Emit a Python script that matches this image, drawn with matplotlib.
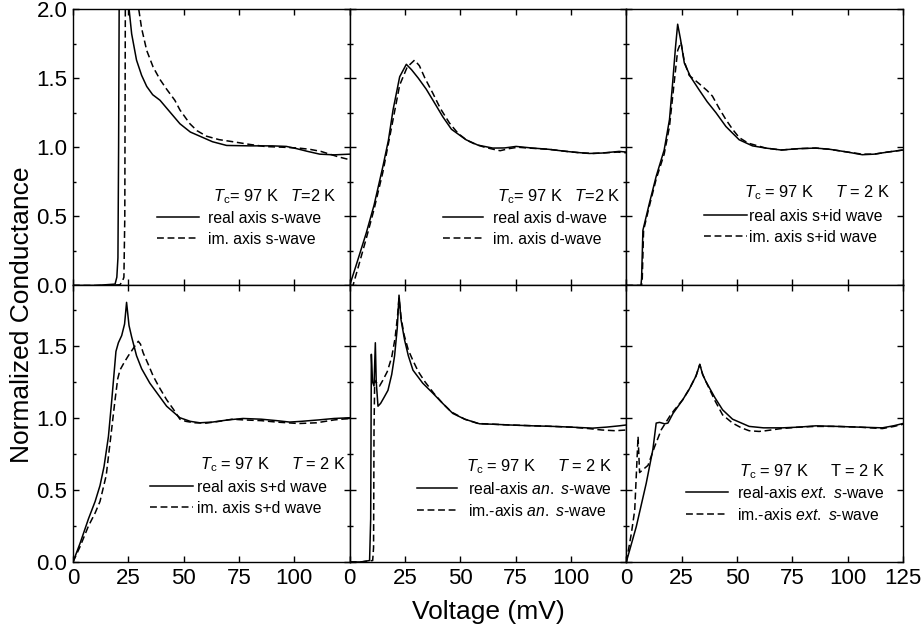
import matplotlib
matplotlib.use("Agg")
import matplotlib.pyplot as plt
from matplotlib.lines import Line2D
from matplotlib.ticker import MultipleLocator, FuncFormatter

plt.rcParams["font.family"] = ["Liberation Sans", "DejaVu Sans"]
plt.rcParams["mathtext.fontset"] = "custom"
plt.rcParams["mathtext.rm"] = "Liberation Sans"
plt.rcParams["mathtext.it"] = "Liberation Sans:italic"

# --- data (voltage in mV, normalized conductance) ---
# s-wave
v_s_re = [0, 10, 19.0, 19.8, 20.3, 20.6, 21.0, 22.5, 25.0, 26.5, 28.7, 31.0, 33.3, 36.0, 39.3,
          43.0, 48.3, 53, 57.3, 63, 69.4, 80, 90, 96.4, 101, 106, 111.5, 118, 125]
g_s_re = [0, 0, 0.01, 0.06, 0.2, 1.0, 2.6, 3.2, 2.05, 1.82, 1.63, 1.52, 1.44, 1.38, 1.34,
          1.27, 1.17, 1.11, 1.08, 1.04, 1.013, 1.01, 1.01, 1.006, 0.99, 0.97, 0.95, 0.945, 0.95]
v_s_im = [0, 15, 21.2, 22.3, 23.0, 23.4, 23.8, 26.5, 29.5, 31.0, 33.3, 36.2, 39.3, 42.3, 46.0,
          48.3, 52.8, 56, 60.3, 66, 72.2, 80, 87, 95, 102, 107, 112, 116, 120, 125]
g_s_im = [0, 0, 0.005, 0.03, 0.06, 0.5, 3.0, 3.0, 2.02, 1.86, 1.70, 1.58, 1.49, 1.42, 1.34,
          1.27, 1.17, 1.12, 1.08, 1.055, 1.04, 1.02, 1.005, 1.0, 0.994, 0.985, 0.97, 0.95, 0.93, 0.91]

# d-wave
v_d_re = [0, 3, 7.5, 11, 15, 17.5, 19.6, 22.6, 25.6, 28, 31, 34.6, 38, 42.1, 46, 52.6, 58,
          64.7, 70, 75.2, 82, 90, 97.8, 103, 108.3, 114, 121.8, 125]
g_d_re = [0, 0.15, 0.38, 0.58, 0.86, 1.05, 1.27, 1.51, 1.60, 1.56, 1.50, 1.42, 1.33, 1.22,
          1.13, 1.054, 1.015, 0.994, 0.995, 1.006, 0.995, 0.985, 0.97, 0.962, 0.955, 0.958, 0.97, 0.965]
v_d_im = [0, 1.5, 4, 7.5, 11, 15, 19, 22.6, 26, 29.3, 31.5, 34, 37.6, 41, 45.1, 49, 53, 57,
          61, 65, 68, 72, 76, 80, 90, 98, 104, 110, 116, 121, 125]
g_d_im = [0, 0.0, 0.14, 0.34, 0.55, 0.82, 1.15, 1.45, 1.58, 1.63, 1.59, 1.50, 1.39, 1.28,
          1.175, 1.10, 1.05, 1.02, 1.0, 0.985, 0.975, 0.99, 1.0, 0.995, 0.985, 0.97, 0.96,
          0.955, 0.96, 0.965, 0.96]

# s+id wave
v_sid_re = [0, 6.6, 6.9, 7.5, 10.5, 13.5, 17.1, 19.5, 20.9, 22.2, 23.2, 24.5, 26.2, 29, 32.9,
            36.5, 40.5, 45, 51, 57, 63, 70, 78, 85.6, 92, 100, 106.6, 112, 118, 125]
g_sid_re = [0, 0, 0.05, 0.40, 0.60, 0.79, 0.98, 1.2, 1.46, 1.72, 1.89, 1.78, 1.61, 1.51, 1.415,
            1.33, 1.25, 1.15, 1.054, 1.01, 0.994, 0.98, 0.99, 0.994, 0.985, 0.965, 0.946, 0.95, 0.965, 0.98]
v_sid_im = [0, 6.9, 7.2, 7.8, 10.5, 13.5, 17.1, 19.5, 21.5, 23.2, 24.7, 26.2, 28.4, 32.9, 36.5,
            38.9, 42, 45, 48, 51, 55, 63, 70, 78, 85.6, 92, 100, 106.6, 112, 118, 125]
g_sid_im = [0, 0, 0.05, 0.40, 0.58, 0.77, 0.95, 1.15, 1.45, 1.70, 1.76, 1.62, 1.52, 1.46, 1.41,
            1.37, 1.28, 1.20, 1.13, 1.07, 1.03, 0.994, 0.98, 0.99, 0.994, 0.985, 0.965, 0.95,
            0.95, 0.965, 0.98]

# s+d wave
v_sd_re = [0, 3.2, 7, 10, 12.2, 14, 16, 17.5, 19.4, 20.5, 22, 23.3, 24.2, 25.3, 26.5, 28.7, 31,
           34.7, 38.5, 42.3, 48.3, 53, 57.3, 63, 70, 76.8, 85, 92, 97.9, 103, 111, 118, 125]
g_sd_re = [0, 0.13, 0.30, 0.42, 0.53, 0.66, 0.87, 1.12, 1.46, 1.52, 1.57, 1.65, 1.80, 1.64, 1.56,
           1.43, 1.34, 1.24, 1.16, 1.08, 1.0, 0.975, 0.965, 0.97, 0.985, 0.995, 0.99, 0.98,
           0.97, 0.975, 0.985, 0.995, 1.0]
v_sd_im = [0, 3, 7, 10, 12.2, 15, 17, 19, 20.2, 21.2, 23, 25, 27.2, 28.5, 29.5, 30.5, 31.7, 34,
           36.2, 39, 42.3, 45.3, 48.3, 51, 55, 60.3, 66, 72, 77, 85, 92, 102, 110, 118, 125]
g_sd_im = [0, 0.10, 0.25, 0.34, 0.42, 0.60, 0.86, 1.125, 1.27, 1.33, 1.38, 1.43, 1.48, 1.51, 1.53,
           1.51, 1.45, 1.37, 1.29, 1.21, 1.125, 1.06, 0.99, 0.975, 0.965, 0.963, 0.975, 0.99,
           0.985, 0.98, 0.97, 0.96, 0.965, 0.985, 0.995]

# anisotropic s-wave
v_an_re = [0, 5, 9.0, 9.5, 9.8, 10.3, 11.0, 11.6, 12.0, 12.8, 14, 15.5, 17.3, 19, 20.3, 21.5,
           22.3, 23.2, 24.8, 26.5, 28.6, 33, 37.6, 42, 46.6, 52, 58.7, 65, 72, 82.7, 92, 100,
           109.8, 116, 121.8, 125]
g_an_re = [0, 0, 0.01, 0.3, 1.44, 1.25, 1.22, 1.52, 1.25, 1.08, 1.10, 1.14, 1.19, 1.30, 1.43,
           1.62, 1.85, 1.68, 1.54, 1.43, 1.33, 1.24, 1.17, 1.10, 1.03, 0.99, 0.958, 0.955, 0.95,
           0.944, 0.94, 0.935, 0.928, 0.935, 0.944, 0.95]
v_an_im = [0, 5, 10.4, 10.8, 11.0, 11.3, 12.3, 13.5, 15, 17, 19, 20.5, 21.6, 22.3, 23.2, 24.5,
           26.5, 28.5, 31, 34, 38, 42, 46, 52, 58, 65, 72, 82, 92, 100, 108, 114, 120, 125]
g_an_im = [0, 0, 0.01, 0.1, 0.9, 1.26, 1.24, 1.22, 1.26, 1.32, 1.42, 1.55, 1.70, 1.83, 1.70,
           1.58, 1.47, 1.40, 1.32, 1.25, 1.17, 1.10, 1.04, 0.99, 0.96, 0.955, 0.95, 0.945, 0.94,
           0.935, 0.925, 0.915, 0.91, 0.915]

# extended s-wave
v_ext_re = [0, 4.5, 9.0, 12.0, 13.5, 15.0, 17.3, 18.8, 21.1, 25.5, 28.5, 31.5, 33.2, 34.5, 36,
            40, 43.5, 48, 55.5, 62, 70.5, 78, 85.6, 95, 105, 115.7, 121, 125]
g_ext_re = [0, 0.245, 0.546, 0.78, 0.963, 0.968, 0.958, 0.963, 1.03, 1.125, 1.20, 1.29, 1.37,
            1.30, 1.25, 1.14, 1.055, 0.99, 0.94, 0.93, 0.93, 0.935, 0.944, 0.94, 0.935, 0.93, 0.945, 0.96]
v_ext_im = [0, 2.3, 3.8, 5.3, 6.0, 7.5, 9.8, 12.8, 15.8, 19.6, 21.5, 25.5, 28.5, 31.5, 33.2,
            34.5, 36, 40, 43.5, 48, 52, 55.5, 60, 63, 70, 78, 85.6, 95, 105, 115.7, 121, 125]
g_ext_im = [0, 0.20, 0.36, 0.87, 0.62, 0.64, 0.67, 0.80, 0.917, 1.01, 1.05, 1.125, 1.20, 1.29,
            1.37, 1.30, 1.25, 1.12, 1.02, 0.963, 0.93, 0.91, 0.905, 0.91, 0.925, 0.935, 0.94,
            0.94, 0.935, 0.925, 0.94, 0.955]

headers = [
    "$T_\\mathrm{c}$= 97 K   $T$=2 K",
    "$T_\\mathrm{c}$= 97 K   $T$=2 K",
    "$T_\\mathrm{c}$ = 97 K     $T$ = 2 K",
    "$T_\\mathrm{c}$ = 97 K     $T$ = 2 K",
    "$T_\\mathrm{c}$ = 97 K     $T$ = 2 K",
    "$T_\\mathrm{c}$ = 97 K     T = 2 K",
]
labels = [
    ("real axis s-wave", "im. axis s-wave"),
    ("real axis d-wave", "im. axis d-wave"),
    ("real axis s+id wave", "im. axis s+id wave"),
    ("real axis s+d wave", "im. axis s+d wave"),
    ("real-axis $\\it{an.}$ $\\it{s}$-wave", "im.-axis $\\it{an.}$ $\\it{s}$-wave"),
    ("real-axis $\\it{ext.}$ $\\it{s}$-wave", "im.-axis $\\it{ext.}$ $\\it{s}$-wave"),
]
curves = [
    (v_s_re, g_s_re, v_s_im, g_s_im),
    (v_d_re, g_d_re, v_d_im, g_d_im),
    (v_sid_re, g_sid_re, v_sid_im, g_sid_im),
    (v_sd_re, g_sd_re, v_sd_im, g_sd_im),
    (v_an_re, g_an_re, v_an_im, g_an_im),
    (v_ext_re, g_ext_re, v_ext_im, g_ext_im),
]

# legend placement per panel: header (x, y), legend (x0, yc, handlelength, textpad)
header_pos = [(0.505, 0.321), (0.531, 0.321), (0.427, 0.336),
              (0.458, 0.351), (0.422, 0.344), (0.409, 0.326)]
legend_pos = [(0.303, 0.206, 2.68, 0.57), (0.336, 0.206, 2.55, 0.64), (0.279, 0.213, 2.74, 0.19),
              (0.278, 0.232, 2.74, 0.25), (0.242, 0.225, 2.55, 0.70), (0.214, 0.210, 2.68, 0.57)]

LW = 1.1
DASH = (4.5, 2.4)
FS_LEG = 11.3
FS_HEAD = 11.8

fig, axes = plt.subplots(2, 3, figsize=(9.23, 6.34), dpi=100)
fig.subplots_adjust(left=0.0791, right=0.9783, bottom=0.1136, top=0.9858, wspace=0, hspace=0)

for i, ax in enumerate(axes.flat):
    row, col = divmod(i, 3)
    vr, gr, vi, gi = curves[i]
    ax.plot(vr, gr, color="black", lw=LW)
    ax.plot(vi, gi, color="black", lw=LW, dashes=DASH)

    ax.set_xlim(0, 125)
    ax.set_ylim(0, 2.0 if row == 0 else 1.917)
    ax.xaxis.set_major_locator(MultipleLocator(25))
    ax.yaxis.set_major_locator(MultipleLocator(0.5))
    ax.yaxis.set_minor_locator(MultipleLocator(0.25))
    ax.tick_params(which="both", direction="in", top=True, right=True,
                   labelsize=16, width=1.0, pad=4)
    ax.tick_params(which="major", length=4)
    ax.tick_params(which="minor", length=2.5)
    for sp in ax.spines.values():
        sp.set_linewidth(1.0)

    ax.yaxis.set_major_formatter(FuncFormatter(lambda v, p: "%.1f" % v))
    if col != 0:
        ax.tick_params(labelleft=False)
    if row == 0:
        ax.tick_params(labelbottom=False)
    else:
        last = col == 2
        ax.xaxis.set_major_formatter(
            FuncFormatter(lambda v, p, last=last: "" if (v > 120 and not last) else "%d" % v))

    hx, hy = header_pos[i]
    ax.text(hx, hy, headers[i], transform=ax.transAxes, fontsize=FS_HEAD, va="center", ha="left")
    lx, ly, hl, tp = legend_pos[i]
    handles = [Line2D([], [], color="black", lw=LW),
               Line2D([], [], color="black", lw=LW, dashes=DASH)]
    ax.legend(handles, labels[i], loc="center left", bbox_to_anchor=(lx, ly),
              frameon=False, fontsize=FS_LEG, handlelength=hl, handletextpad=tp,
              labelspacing=0.38, borderpad=0, borderaxespad=0)

fig.text(0.5287, 1 - 612 / 634, "Voltage (mV)", ha="center", va="center", fontsize=19)
fig.text(22 / 923, 1 - 315 / 634, "Normalized Conductance", rotation=90,
         ha="center", va="center", fontsize=19)

fig.savefig("out.png", dpi=100)
